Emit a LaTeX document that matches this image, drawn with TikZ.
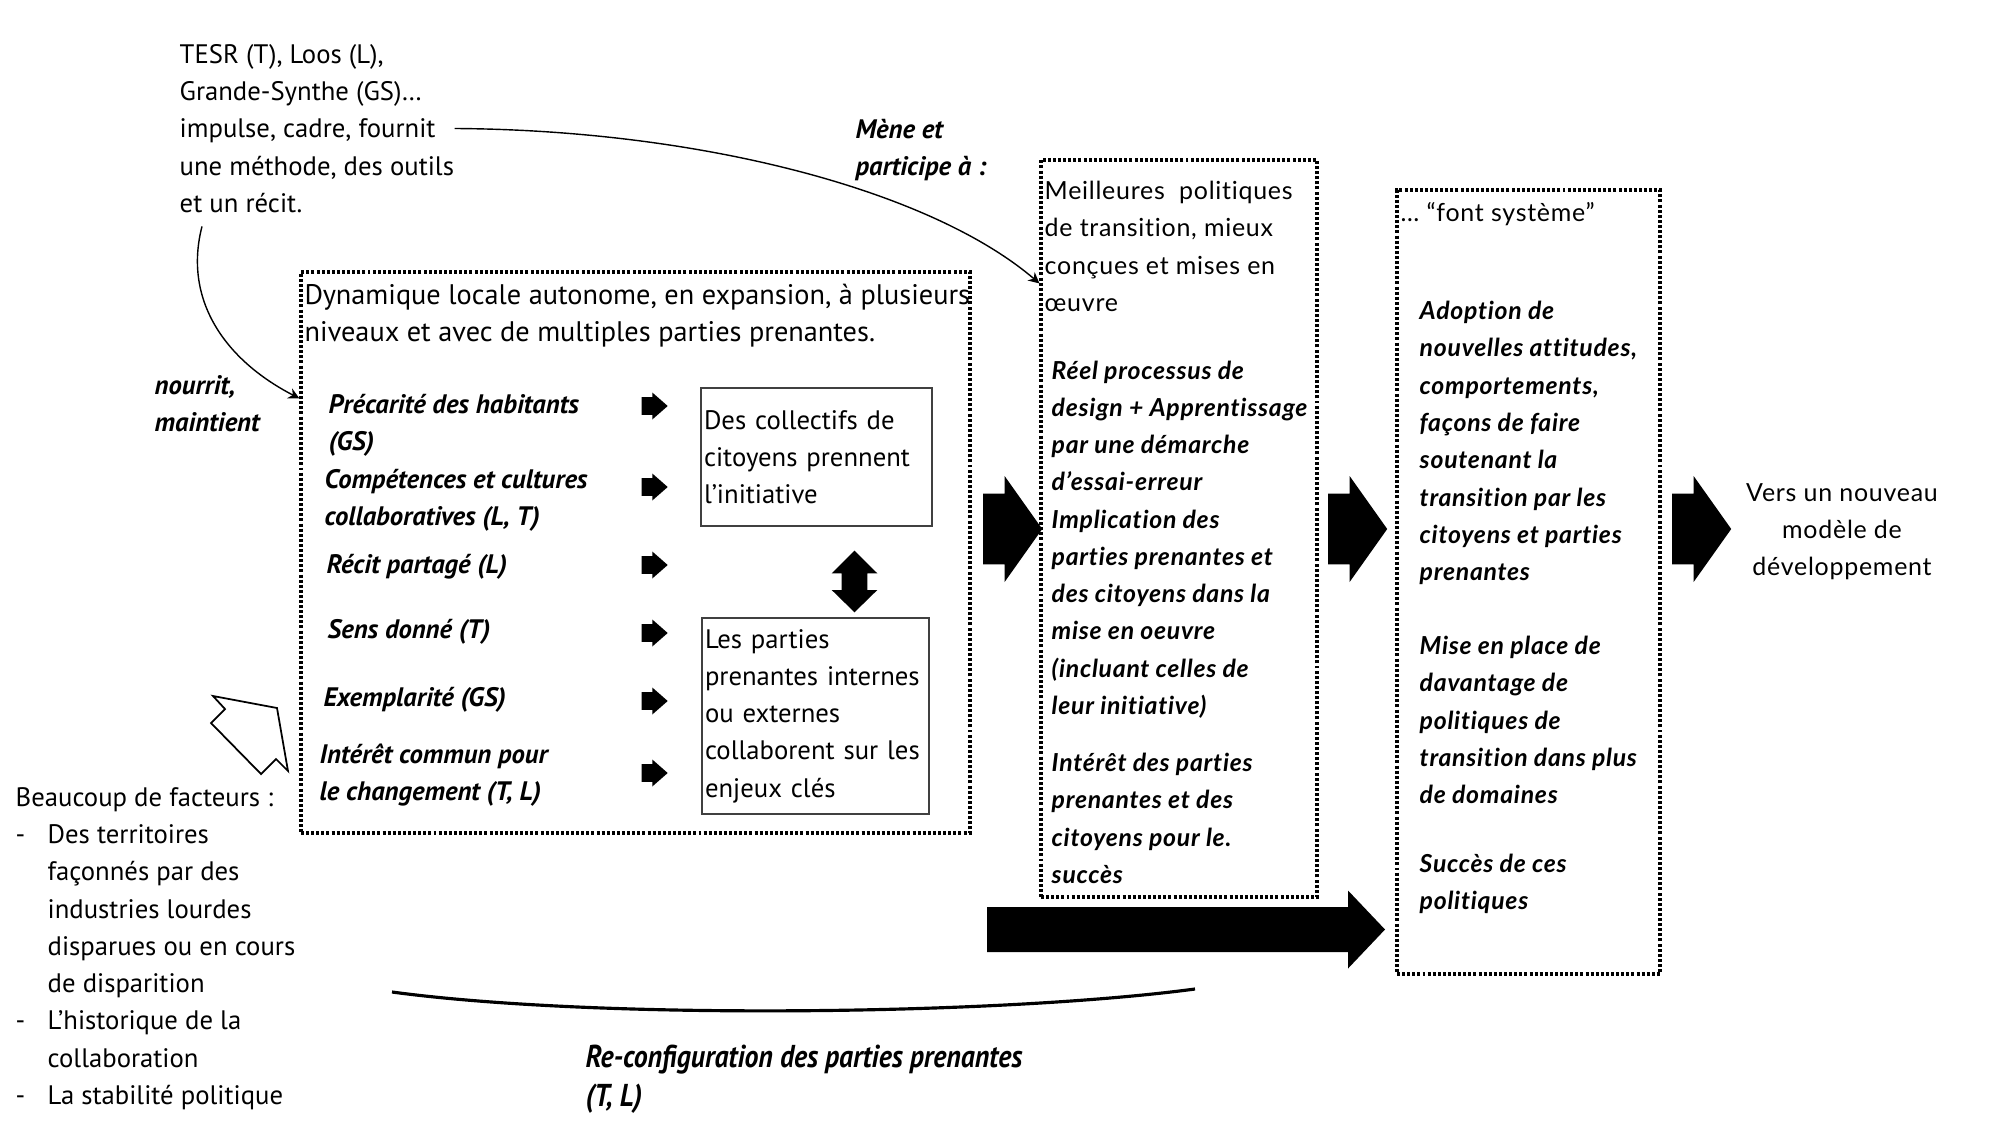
\documentclass[tikz,border=0pt]{standalone}
\usepackage{fontspec}
\setmainfont{PT Sans}
\newfontfamily\gillfont[LetterSpace=3.0,Ligatures=NoCommon]{Lato}
\newfontfamily\condfont[FakeStretch=0.88]{PT Sans}
\usepackage{tikz}
\usetikzlibrary{arrows.meta,calc}

\begin{document}
\begin{tikzpicture}[
  line join=miter,
  txt/.style={
    inner sep=0pt,
    anchor=west,
    align=left,
    font=\fontsize{7.6}{10.6}\selectfont
  },
  key/.style={
    txt,
    font=\fontsize{7.6}{10.6}\selectfont\bfseries\itshape
  },
  wide/.style={
    txt,
    font=\fontsize{7.1}{10.6}\selectfont\gillfont
  },
  widekey/.style={
    txt,
    font=\fontsize{7.05}{10.6}\selectfont\gillfont\bfseries\itshape
  },
  dotbox/.style={
    rectangle,
    draw,
    line width=0.9pt,
    dash pattern=on 0.85pt off 0.6pt,
    inner sep=0pt
  },
  plainbox/.style={
    rectangle,
    draw=black!75,
    line width=0.45pt,
    align=left,
    inner xsep=0.03cm,
    inner ysep=0pt,
    font=\fontsize{7.6}{10.6}\selectfont
  },
  thin/.style={
    -{Stealth[length=1.1mm,width=1.1mm]},
    line width=0.4pt
  }
]

\useasboundingbox (0,0) rectangle (20.10,-11.26);

% ------------------------------------------------------------
% Local actors and what they feed
% ------------------------------------------------------------

\node[txt] (tesr) at (1.79,-1.285)
  {TESR (T), Loos (L),\\
   Grande-Synthe (GS)…\\
   impulse, cadre, fournit\\
   une méthode, des outils\\
   et un récit.};

\node[key] (nourrit) at (1.54,-4.04) {nourrit,\\maintient};
\node[key] (mene) at (8.55,-1.50) {Mène et\\participe à :};

\node[dotbox,minimum width=6.69cm,minimum height=5.61cm]
  (dynbox) at (6.355,-5.525) {};
\node[txt,font=\fontsize{8.05}{10.6}\selectfont] (dyntitle) at (3.04,-3.16)
  {Dynamique locale autonome, en expansion, à plusieurs\\
   niveaux et avec de multiples parties prenantes.};

\node[key] (precarite) at (3.28,-4.255) {Précarité des habitants\\(GS)};
\node[key] (competences) at (3.24,-5.00)
  {Compétences et cultures\\collaboratives (L, T)};
\node[key] (recit) at (3.26,-5.67) {Récit partagé (L)};
\node[key] (sens) at (3.27,-6.32) {Sens donné (T)};
\node[key] (exemplarite) at (3.23,-7.00) {Exemplarité (GS)};
\node[key] (interet) at (3.19,-7.755)
  {Intérêt commun pour\\le changement (T, L)};

\foreach \y in {4.06,4.87,5.65,6.33,7.01,7.73}{
  \fill (6.415,-\y) ++(0,0.088) -- ++(0.108,0) -- ++(0,0.047)
    -- ++(0.154,-0.135) -- ++(-0.154,-0.135) -- ++(0,0.047)
    -- ++(-0.108,0) -- cycle;
}

\node[plainbox,text width=2.25cm,minimum height=1.38cm]
  (collectifs) at (8.165,-4.57)
  {Des collectifs de\\citoyens prennent\\l’initiative};
\node[plainbox,text width=2.21cm,minimum height=1.96cm]
  (parties) at (8.155,-7.16)
  {Les parties\\prenantes internes\\ou externes\\collaborent sur les\\enjeux clés};

% two-way link between the two boxes
\fill (8.545,-5.507) -- (8.773,-5.733) -- (8.673,-5.733) -- (8.673,-5.90)
  -- (8.773,-5.90) -- (8.545,-6.123) -- (8.317,-5.90) -- (8.417,-5.90)
  -- (8.417,-5.733) -- (8.317,-5.733) -- cycle;

% ------------------------------------------------------------
% Policies and system effects
% ------------------------------------------------------------

\node[dotbox,minimum width=2.76cm,minimum height=7.37cm]
  (policybox) at (11.79,-5.285) {};
\node[wide] (policy) at (10.44,-2.465)
  {Meilleures\ \ politiques\\
   de transition, mieux\\
   conçues et mises en\\
   œuvre};
\node[widekey] (design) at (10.51,-5.395)
  {Réel processus de\\
   design + Apprentissage\\
   par une démarche\\
   d’essai-erreur\\
   Implication des\\
   parties prenantes et\\
   des citoyens dans la\\
   mise en oeuvre\\
   (incluant celles de\\
   leur initiative)};
\node[widekey] (interetpp) at (10.51,-8.185)
  {Intérêt des parties\\
   prenantes et des\\
   citoyens pour le.\\
   succès};

\node[dotbox,minimum width=2.63cm,minimum height=7.84cm]
  (systembox) at (15.285,-5.82) {};
\node[wide] (fontsys) at (14.00,-2.14) {… “font système”};
\node[widekey] (adoption) at (14.19,-4.43)
  {Adoption de\\
   nouvelles attitudes,\\
   comportements,\\
   façons de faire\\
   soutenant la\\
   transition par les\\
   citoyens et parties\\
   prenantes};
\node[widekey] (miseplace) at (14.19,-7.20)
  {Mise en place de\\
   davantage de\\
   politiques de\\
   transition dans plus\\
   de domaines};
\node[widekey] (succes) at (14.19,-8.835)
  {Succès de ces\\politiques};

\node[wide,anchor=center,align=center] (vers) at (18.42,-5.315)
  {Vers un nouveau\\modèle de\\développement};

\foreach \x in {9.83,13.28,16.72}{
  \fill (\x,-5.29) ++(0,0.354) -- ++(0.216,0) -- ++(0,0.176)
    -- ++(0.376,-0.53) -- ++(-0.376,-0.53) -- ++(0,0.176)
    -- ++(-0.216,0) -- cycle;
}

% long arrow under the policy box
\fill (9.87,-9.295) ++(0,0.225) -- ++(3.61,0) -- ++(0,0.165)
  -- ++(0.37,-0.39) -- ++(-0.37,-0.39) -- ++(0,0.165)
  -- ++(-3.61,0) -- cycle;

% ------------------------------------------------------------
% Curved links
% ------------------------------------------------------------

\draw[thin] (tesr.east)
  .. controls (7.00,-1.30) and (9.30,-1.90) ..
  ($(policybox.north west)+(0,-1.25)$);

\draw[thin] ([xshift=0.23cm,yshift=-0.13cm]tesr.south west)
  .. controls (1.83,-3.00) and (2.25,-3.60) ..
  ($(dynbox.north west)+(0,-1.28)$);

% ------------------------------------------------------------
% Context factors
% ------------------------------------------------------------

\draw[line width=0.5pt,fill=white]
  (2.13,-6.96) -- (2.77,-7.08) -- (2.88,-7.71) -- (2.76,-7.59)
  -- (2.61,-7.74) -- (2.11,-7.23) -- (2.25,-7.09) -- cycle;

\node[txt] (facteurs) at (0.15,-9.485)
  {Beaucoup de facteurs :\\
   \makebox[0.32cm][l]{-}Des territoires\\
   \hspace*{0.32cm}façonnés par des\\
   \hspace*{0.32cm}industries lourdes\\
   \hspace*{0.32cm}disparues ou en cours\\
   \hspace*{0.32cm}de disparition\\
   \makebox[0.32cm][l]{-}L’historique de la\\
   \hspace*{0.32cm}collaboration\\
   \makebox[0.32cm][l]{-}La stabilité politique};

\draw[line width=0.9pt] (3.92,-9.92)
  .. controls (6.00,-10.20) and (10.00,-10.15) .. (11.95,-9.89);

\node[txt,font=\fontsize{9}{11}\selectfont\condfont\bfseries\itshape]
  (reconfig) at (5.85,-10.79)
  {Re-configuration des parties prenantes\\(T, L)};

\end{tikzpicture}
\end{document}
